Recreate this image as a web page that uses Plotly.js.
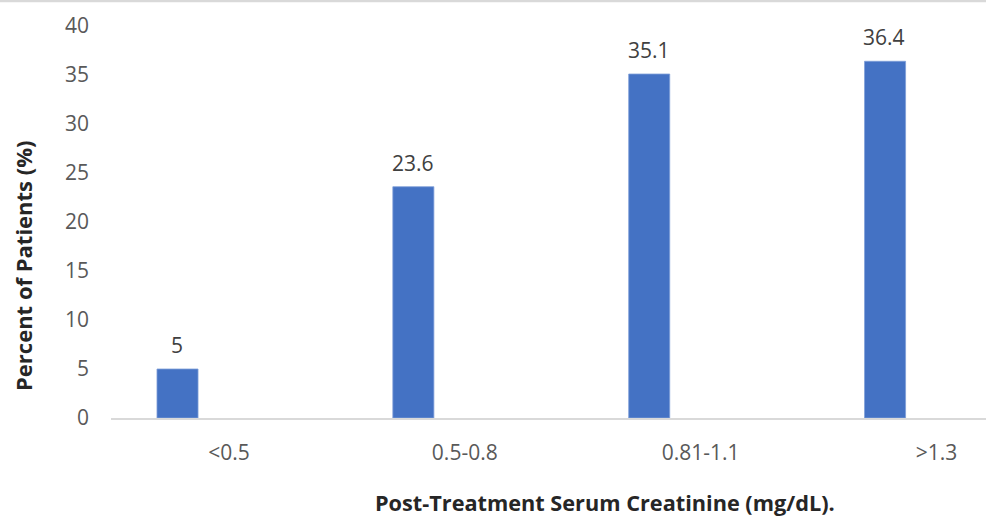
<!DOCTYPE html>
<html>
<head>
<meta charset="utf-8">
<script src="https://cdn.plot.ly/plotly-3.0.1.min.js"></script>
<style>html,body{margin:0;padding:0;background:#fff;}</style>
</head>
<body>
<div id="chart" style="width:986px;height:527px;"></div>
<script>
const categories = ["<0.5", "0.5-0.8", "0.81-1.1", ">1.3"];
const percentPatients = [5, 23.6, 35.1, 36.4];
const yTickValues = [0, 5, 10, 15, 20, 25, 30, 35, 40];
const xTitleText = "Post-Treatment Serum Creatinine (mg/dL).";
const yTitleText = "Percent of Patients (%)";

const FONT = "Open Sans, Noto Sans, sans-serif";

const trace = {
  type: "bar",
  x: categories,
  y: percentPatients,
  marker: { color: "#4472C4", line: { color: "#7f9ed8", width: 0.8 } },
  width: 0.174,
  offset: -0.305,
  hoverinfo: "x+y"
};

const labelAnnotations = categories.map((c, i) => ({
  x: c, y: percentPatients[i], xref: "x", yref: "y",
  text: String(percentPatients[i]),
  showarrow: false, xshift: -52, yshift: 24,
  font: { family: FONT, size: 21, color: "#404040" }
}));

const layout = {
  width: 986, height: 527,
  margin: { l: 111, r: 0, t: 26, b: 109, pad: 0 },
  paper_bgcolor: "#ffffff", plot_bgcolor: "#ffffff",
  showlegend: false,
  bargap: 0,
  xaxis: {
    type: "category",
    range: [-0.5, 3.21],
    showgrid: false, zeroline: false,
    showline: true, linecolor: "#d9d9d9", linewidth: 1.5,
    ticks: "", ticklabelstandoff: 15,
    tickfont: { family: FONT, size: 21, color: "#595959" },
    fixedrange: true
  },
  yaxis: {
    range: [0, 40],
    tickvals: yTickValues,
    showgrid: false, zeroline: false, showline: false,
    ticks: "", ticklabelstandoff: 21,
    tickfont: { family: FONT, size: 21, color: "#595959" },
    fixedrange: true
  },
  shapes: [{
    type: "line", xref: "paper", yref: "paper",
    x0: -0.2, x1: 1.05, y0: 1.064, y1: 1.064,
    line: { color: "#d9d9d9", width: 2.5 }
  }],
  annotations: labelAnnotations.concat([
    {
      text: xTitleText, xref: "paper", yref: "paper",
      x: 0.565, y: -0.2168, xanchor: "center", yanchor: "middle",
      showarrow: false,
      font: { family: FONT, size: 21.7, color: "#262626", weight: "bold" }
    },
    {
      text: yTitleText, xref: "paper", yref: "paper",
      x: -0.1006, y: 0.3878, xanchor: "center", yanchor: "middle",
      textangle: -90, showarrow: false,
      font: { family: FONT, size: 22, color: "#262626", weight: "bold" }
    }
  ])
};

Plotly.newPlot("chart", [trace], layout, { displayModeBar: false, staticPlot: true });
</script>
</body>
</html>
